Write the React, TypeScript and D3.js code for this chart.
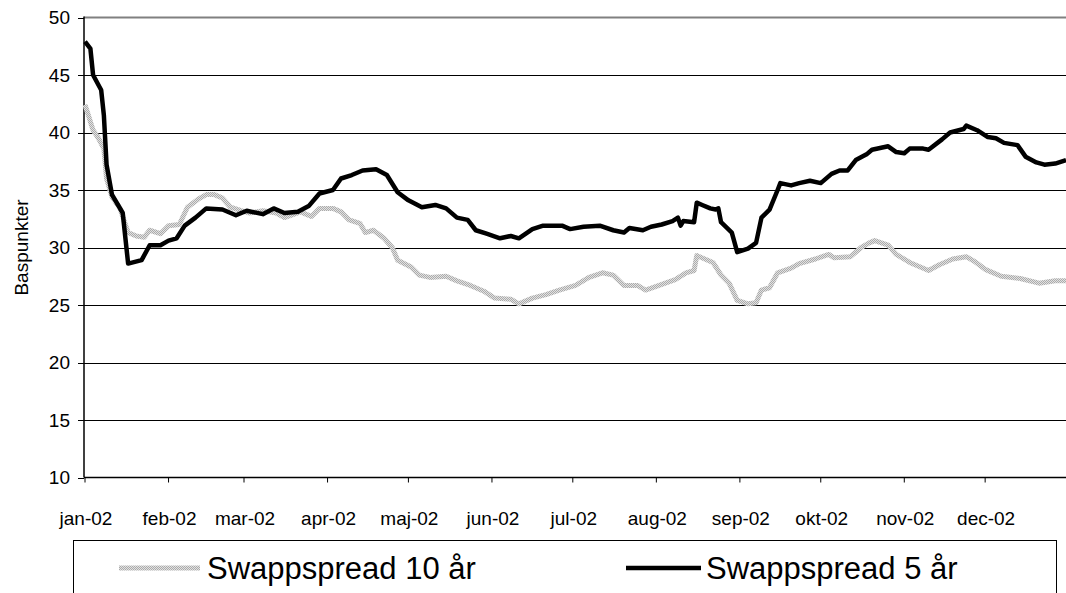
import React from "react";
import * as d3 from "d3";

// Days since 1 Jan 2002 and values (basis points)
const days5: number[] = [0, 2, 3, 6, 7, 8, 10, 14, 16, 21, 24, 28, 31, 34, 37, 41, 45, 51, 56, 60, 66, 70, 74, 79, 83, 87, 92, 95, 99, 103, 108, 112, 116, 120, 125, 130, 134, 138, 142, 145, 149, 154, 158, 161, 166, 170, 177, 180, 185, 191, 196, 200, 202, 207, 210, 214, 218, 220, 221, 222, 226, 227, 229, 232, 234, 235, 236, 240, 242, 246, 249, 251, 254, 257, 258, 262, 265, 269, 273, 277, 280, 283, 286, 290, 292, 298, 301, 304, 306, 311, 313, 318, 321, 326, 327, 331, 335, 338, 341, 346, 349, 353, 356, 360, 364];
const values5: number[] = [47.9, 47.3, 45, 43.7, 41.5, 37.2, 34.6, 33, 28.6, 28.9, 30.2, 30.2, 30.6, 30.8, 31.9, 32.6, 33.4, 33.3, 32.8, 33.2, 32.9, 33.4, 33, 33.1, 33.6, 34.7, 35, 36, 36.3, 36.7, 36.8, 36.3, 34.8, 34.1, 33.5, 33.7, 33.4, 32.6, 32.4, 31.5, 31.2, 30.8, 31, 30.8, 31.6, 31.9, 31.9, 31.6, 31.8, 31.9, 31.5, 31.3, 31.7, 31.5, 31.8, 32, 32.3, 32.6, 31.9, 32.3, 32.2, 33.9, 33.7, 33.4, 33.3, 33.4, 32.2, 31.3, 29.6, 29.9, 30.4, 32.6, 33.3, 35, 35.6, 35.4, 35.6, 35.8, 35.6, 36.4, 36.7, 36.7, 37.6, 38.1, 38.5, 38.8, 38.3, 38.2, 38.6, 38.6, 38.5, 39.4, 40, 40.3, 40.6, 40.2, 39.6, 39.5, 39.1, 38.9, 37.9, 37.4, 37.2, 37.3, 37.6];

const days10: number[] = [0, 1, 3, 5, 7, 8, 10, 13, 16, 19, 22, 24, 28, 31, 35, 38, 42, 45, 48, 51, 54, 58, 61, 66, 71, 74, 80, 84, 87, 92, 95, 98, 102, 104, 107, 111, 114, 116, 121, 124, 128, 134, 138, 143, 148, 152, 158, 161, 166, 171, 176, 182, 187, 192, 196, 200, 205, 208, 213, 219, 223, 226, 227, 228, 233, 236, 239, 242, 246, 249, 251, 254, 257, 262, 265, 271, 276, 278, 284, 288, 291, 293, 298, 301, 306, 313, 317, 322, 327, 330, 334, 340, 347, 354, 360, 364];
const values10: number[] = [42.4, 41.7, 40.2, 39.5, 38.6, 36, 34.4, 33.4, 31.3, 31, 30.9, 31.5, 31.2, 31.9, 32, 33.5, 34.2, 34.6, 34.6, 34.3, 33.5, 33.2, 33, 33.2, 33, 32.6, 33.1, 32.7, 33.4, 33.4, 33.1, 32.4, 32.1, 31.3, 31.5, 30.8, 30, 28.9, 28.3, 27.6, 27.4, 27.5, 27.1, 26.7, 26.2, 25.6, 25.5, 25.1, 25.6, 25.9, 26.3, 26.7, 27.4, 27.8, 27.6, 26.7, 26.7, 26.3, 26.7, 27.2, 27.8, 28, 29.3, 29.2, 28.7, 27.6, 26.9, 25.4, 25.1, 25.2, 26.3, 26.5, 27.8, 28.2, 28.6, 29, 29.4, 29.1, 29.2, 30, 30.4, 30.6, 30.2, 29.4, 28.7, 28, 28.5, 29, 29.2, 28.8, 28.1, 27.5, 27.3, 26.9, 27.1, 27.1];

const yTicks: number[] = [10, 15, 20, 25, 30, 35, 40, 45, 50];
const monthLabels: string[] = ["jan-02", "feb-02", "mar-02", "apr-02", "maj-02", "jun-02", "jul-02", "aug-02", "sep-02", "okt-02", "nov-02", "dec-02"];
const seriesNames: string[] = ["Swappspread 10 år", "Swappspread 5 år"];
const yLabel = "Baspunkter";

const W = 1066;
const H = 593;
const M = { left: 84, right: 1066, top: 17.5, bottom: 477.5 };
const start = new Date(2002, 0, 1);
const end = new Date(2002, 11, 31);

export default function App() {
  const x = d3.scaleTime().domain([start, end]).range([M.left + 1, M.right]);
  const y = d3.scaleLinear().domain([10, 50]).range([M.bottom, M.top]);
  const toDate = (d: number) => d3.timeDay.offset(start, d);
  const line = d3
    .line<[number, number]>()
    .x((d) => x(toDate(d[0])))
    .y((d) => y(d[1]))
    .curve(d3.curveLinear);
  const s5 = days5.map((d, i) => [d, values5[i]] as [number, number]);
  const s10 = days10.map((d, i) => [d, values10[i]] as [number, number]);
  const months = d3.timeMonth.range(start, d3.timeDay.offset(end, 1));
  const font = "'Liberation Sans', Arial, sans-serif";

  return (
    <svg
      width={W}
      height={H}
      style={{ position: "absolute", left: 0, top: 0, background: "#fff" }}
      fontFamily={font}
    >
      <defs>
        <pattern id="hatch" width="2" height="2" patternUnits="userSpaceOnUse">
          <rect width="2" height="2" fill="#e2e2e2" />
          <rect width="1" height="1" fill="#ababab" />
          <rect x="1" y="1" width="1" height="1" fill="#ababab" />
        </pattern>
      </defs>
      {/* gridlines */}
      {yTicks.filter((t) => t > 10 && t < 50).map((t) => (
        <line key={t} x1={M.left} x2={M.right} y1={Math.round(y(t)) + 0.5} y2={Math.round(y(t)) + 0.5} stroke="#000" strokeWidth={1} />
      ))}
      {/* top border */}
      <line x1={M.left} x2={M.right} y1={y(50)} y2={y(50)} stroke="#808080" strokeWidth={2} />
      {/* y axis */}
      <line x1={M.left} x2={M.left} y1={y(50) - 1} y2={y(10)} stroke="#000" strokeWidth={1.5} />
      {yTicks.map((t) => (
        <g key={t}>
          <line x1={M.left - 6} x2={M.left} y1={Math.round(y(t)) + 0.5} y2={Math.round(y(t)) + 0.5} stroke="#000" strokeWidth={1} />
          <text x={70} y={y(t)} dy="0.36em" textAnchor="end" fontSize={19} fill="#000">
            {t}
          </text>
        </g>
      ))}
      {/* x axis */}
      <line x1={M.left} x2={M.right} y1={y(10)} y2={y(10)} stroke="#000" strokeWidth={1.5} />
      {months.map((m, i) => (
        <g key={i}>
          <line x1={x(m)} x2={x(m)} y1={y(10)} y2={y(10) + 5} stroke="#000" strokeWidth={1} />
          <text x={x(m) + 1} y={525} textAnchor="middle" fontSize={19} fill="#000">
            {monthLabels[i]}
          </text>
        </g>
      ))}
      {/* y label */}
      <text transform={`translate(28,${(M.top + M.bottom) / 2}) rotate(-90)`} textAnchor="middle" fontSize={19} fill="#000">
        {yLabel}
      </text>
      {/* lines */}
      <path d={line(s10) || ""} fill="none" stroke="url(#hatch)" strokeWidth={5} strokeLinejoin="round" />
      <path d={line(s5) || ""} fill="none" stroke="#000" strokeWidth={4.5} strokeLinejoin="round" />
      {/* legend */}
      <rect x={73.5} y={540.5} width={983} height={70} fill="#fff" stroke="#000" strokeWidth={1} />
      <line x1={119} x2={200} y1={568} y2={568} stroke="url(#hatch)" strokeWidth={5} />
      <text x={207} y={579} fontSize={31} fill="#000">
        {seriesNames[0]}
      </text>
      <line x1={626} x2={701} y1={568} y2={568} stroke="#000" strokeWidth={4.5} />
      <text x={706} y={579} fontSize={31} fill="#000">
        {seriesNames[1]}
      </text>
    </svg>
  );
}
